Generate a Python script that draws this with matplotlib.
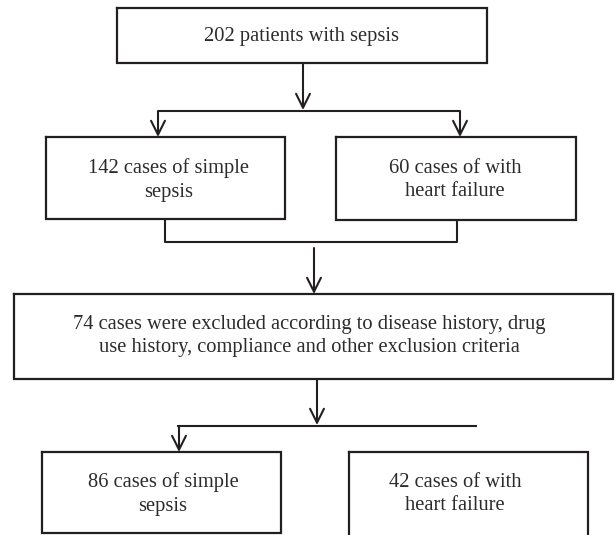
import matplotlib.pyplot as plt

# Box labels (top to bottom)
top_label = "202 patients with sepsis"
split_labels = ["142 cases of simple\nsepsis", "60 cases of with\nheart failure"]
exclusion_label = ("74 cases were excluded according to disease history, drug\n"
                   "use history, compliance and other exclusion criteria")
final_labels = ["86 cases of simple\nsepsis", "42 cases of with\nheart failure"]

INK = "#231f20"
FONT = ["Liberation Serif", "DejaVu Serif"]
FS = 14.8


def box(ax, x0, y0, x1, y1):
    ax.plot([x0, x1, x1, x0, x0], [y0, y0, y1, y1, y0], color=INK, lw=1.6,
            solid_joinstyle="miter", clip_on=False)


def label(ax, x, y, s):
    ax.text(x, y, s, ha="center", va="center", fontsize=FS, family=FONT,
            color="#2b2b2b", linespacing=1.35)


def line(ax, xs, ys):
    ax.plot(xs, ys, color=INK, lw=1.5, solid_capstyle="butt")


def arrow(ax, x, y0, y1):
    ax.annotate("", xy=(x, y1), xytext=(x, y0),
                arrowprops=dict(arrowstyle="->,head_length=1.0,head_width=0.5",
                                color=INK, lw=1.5, shrinkA=0, shrinkB=0))


fig = plt.figure(figsize=(6.16, 5.35), dpi=100)
ax = fig.add_axes([0, 0, 1, 1])
ax.set_xlim(0, 616)
ax.set_ylim(535, 0)
ax.axis("off")

# top box
box(ax, 117, 8, 487, 63)
label(ax, 302, 36, top_label)
arrow(ax, 303, 63, 110)
line(ax, [158, 460], [111, 111])
arrow(ax, 158, 111, 137)
arrow(ax, 460, 111, 137)

# split boxes
box(ax, 46, 137, 285, 219)
label(ax, 169, 180, split_labels[0])
box(ax, 336, 137, 576, 220)
label(ax, 455, 180, split_labels[1])
line(ax, [165, 165, 457, 457], [219, 242, 242, 220])

# exclusion box
arrow(ax, 314, 248, 294)
box(ax, 14, 294, 613, 379)
label(ax, 309, 336, exclusion_label)
arrow(ax, 317, 379, 425)
line(ax, [177, 477], [426, 426])
arrow(ax, 179, 426, 452)

# final boxes
box(ax, 42, 452, 281, 533)
label(ax, 163, 494, final_labels[0])
box(ax, 349, 452, 588, 545)
label(ax, 455, 494, final_labels[1])

fig.savefig("out.png", dpi=100)
